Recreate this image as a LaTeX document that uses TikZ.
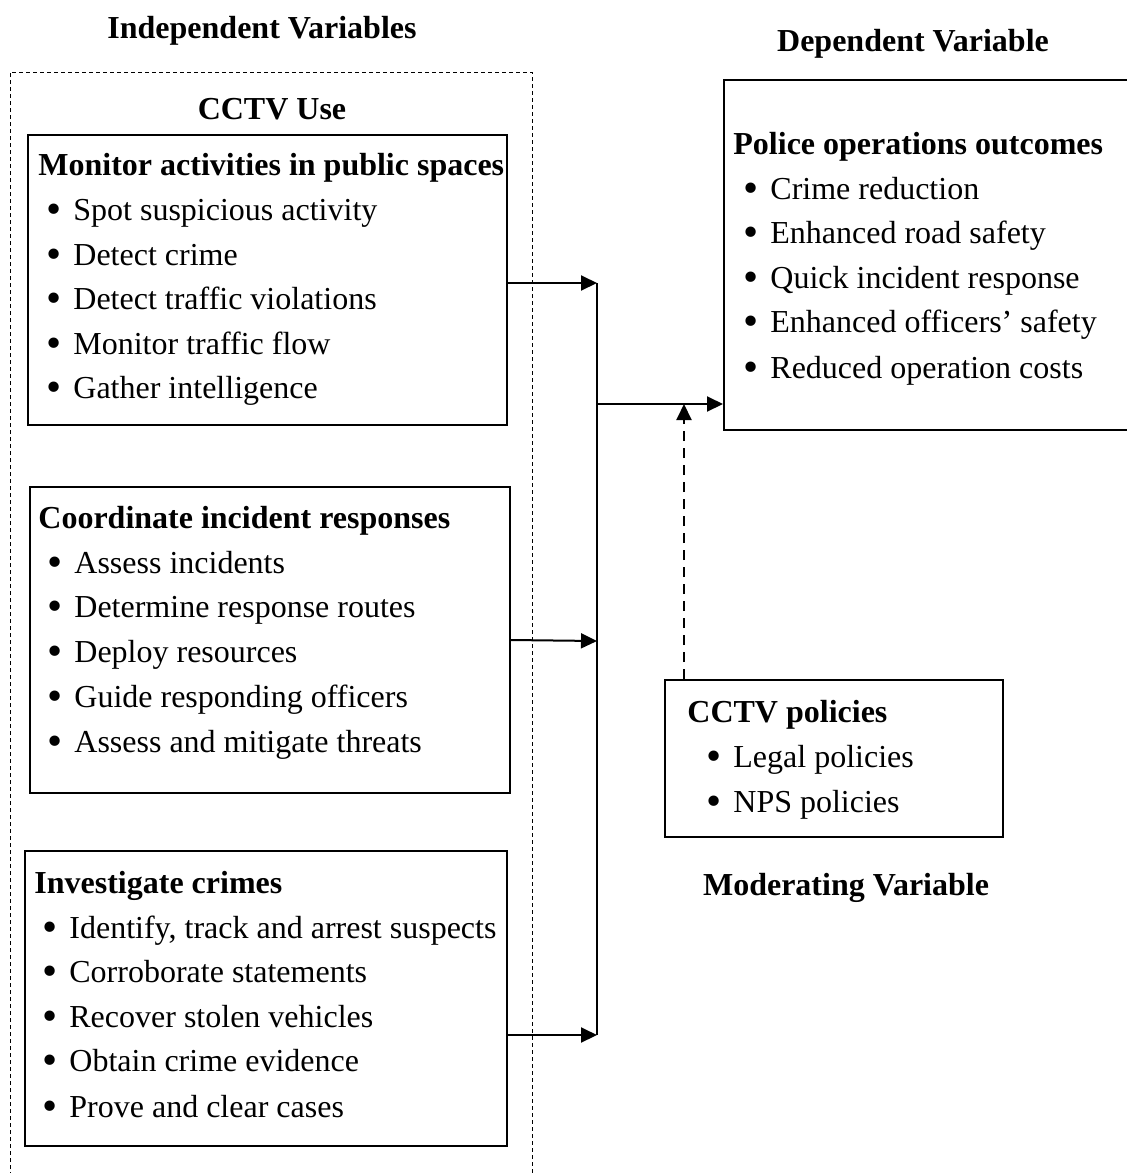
\documentclass[tikz,border=0pt]{standalone}
\usepackage{fontspec}
\setmainfont{Liberation Serif}
\usetikzlibrary{arrows.meta,fit}
\begin{document}
\begin{tikzpicture}[x=0.5pt,y=-0.5pt,
  txt/.style={inner sep=0pt, anchor=base west, font=\fontsize{16pt}{19pt}\selectfont},
  hdr/.style={inner sep=0pt, anchor=base, font=\fontsize{16pt}{19pt}\selectfont\bfseries},
  ttl/.style={txt, font=\fontsize{16pt}{19pt}\selectfont\bfseries},
  box/.style={draw, line width=1pt, inner sep=0pt},
  conn/.style={line width=1pt},
  arr/.style={line width=1pt, -{Triangle[length=8pt,width=7.5pt]}},
  darr/.style={line width=1pt, dash pattern=on 5pt off 3.5pt, -{Triangle[length=8pt,width=7.5pt]}}
]
\newcommand{\itm}[1]{\llap{\raisebox{-1.9pt}{\scalebox{1.35}{\textbullet}}\hspace{6pt}}#1}
\useasboundingbox (0,0) rectangle (1126,1173);
\fill[white] (0,0) rectangle (1126,1173);

% headers
\node[hdr] (hind) at (262,38) {Independent Variables};
\node[hdr] (hdep) at (913,51) {Dependent Variable};
\node[hdr] (hmod) at (846,895) {Moderating Variable};

% outer dashed region (open at the bottom)
\draw[line width=0.5pt, dash pattern=on 2pt off 1.5pt] (10,1190) -- (10,72) -- (532,72) -- (532,1190);
\node[hdr] (cctv) at (272,119) {CCTV Use};

% box 1
\node[box, fit={(28,135) (507,425)}] (b1) {};
\node[ttl] (b1t) at (38,175) {Monitor activities in public spaces};
\node[txt] (b1a) at (73,220) {\itm{Spot suspicious activity}};
\node[txt] (b1b) at (73,265) {\itm{Detect crime}};
\node[txt] (b1c) at (73,309) {\itm{Detect traffic violations}};
\node[txt] (b1d) at (73,354) {\itm{Monitor traffic flow}};
\node[txt] (b1e) at (73,398) {\itm{Gather intelligence}};

% box 2
\node[box, fit={(30,487) (510,793)}] (b2) {};
\node[ttl] (b2t) at (38,528) {Coordinate incident responses};
\node[txt] (b2a) at (74,573) {\itm{Assess incidents}};
\node[txt] (b2b) at (74,617) {\itm{Determine response routes}};
\node[txt] (b2c) at (74,662) {\itm{Deploy resources}};
\node[txt] (b2d) at (74,707) {\itm{Guide responding officers}};
\node[txt] (b2e) at (74,752) {\itm{Assess and mitigate threats}};

% box 3
\node[box, fit={(25,851) (507,1146)}] (b3) {};
\node[ttl] (b3t) at (34,893) {Investigate crimes};
\node[txt] (b3a) at (69,938) {\itm{Identify, track and arrest suspects}};
\node[txt] (b3b) at (69,982) {\itm{Corroborate statements}};
\node[txt] (b3c) at (69,1027) {\itm{Recover stolen vehicles}};
\node[txt] (b3d) at (69,1071) {\itm{Obtain crime evidence}};
\node[txt] (b3e) at (69,1117) {\itm{Prove and clear cases}};

% outcomes box
\node[box, fit={(724,80) (1135,430)}] (out) {};
\node[ttl] (outt) at (733,154) {Police operations outcomes};
\node[txt] (oa) at (770,199) {\itm{Crime reduction}};
\node[txt] (ob) at (770,243) {\itm{Enhanced road safety}};
\node[txt] (oc) at (770,288) {\itm{Quick incident response}};
\node[txt] (od) at (770,332) {\itm{Enhanced officers’ safety}};
\node[txt] (oe) at (770,378) {\itm{Reduced operation costs}};

% policies box
\node[box, fit={(665,680) (1003,837)}] (pol) {};
\node[ttl] (polt) at (687,722) {CCTV policies};
\node[txt] (pa) at (733,767) {\itm{Legal policies}};
\node[txt] (pb) at (733,812) {\itm{NPS policies}};

% connectors
\coordinate (j1) at (597,283);
\coordinate (j2) at (597,404);
\coordinate (j2b) at (597,641);
\coordinate (j3) at (597,1035);
\coordinate (m) at (684,404);
\draw[conn] (j1) -- (j3);
\draw[arr] (b1.east |- j1) -- (j1);
\draw[arr] (b2.east) -- (j2b);
\draw[arr] (b3.east |- j3) -- (j3);
\draw[arr] (j2) -- (out.west |- j2);
\draw[darr] (pol.north -| m) -- (m);
\end{tikzpicture}
\end{document}
